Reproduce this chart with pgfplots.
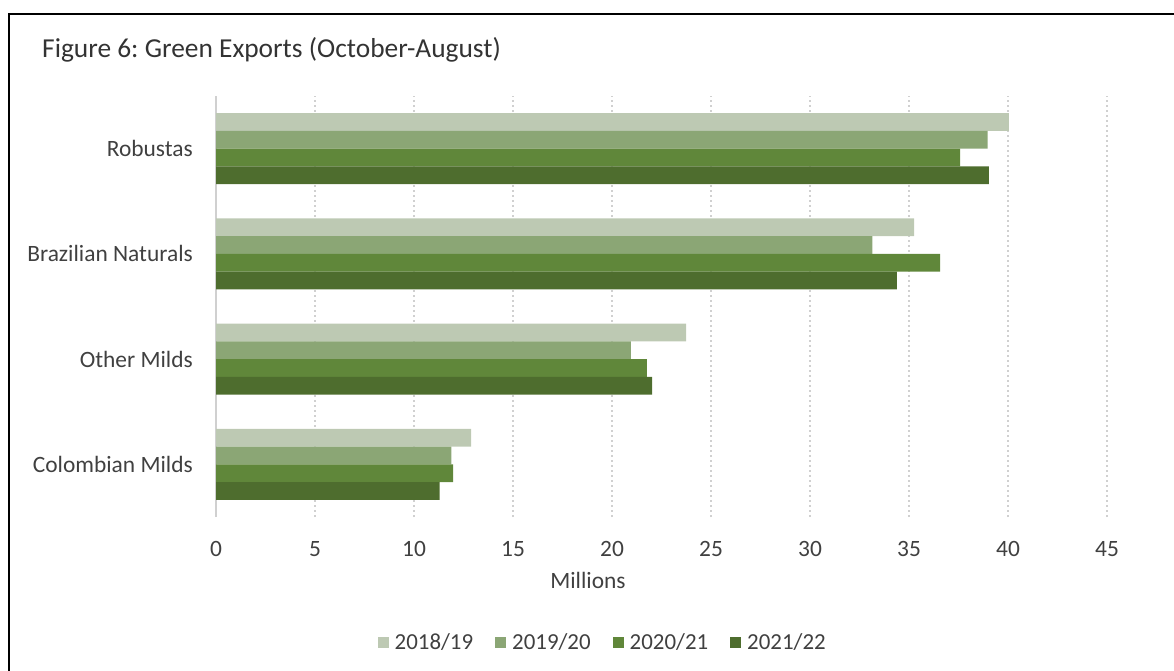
\documentclass[border=0pt]{standalone}
\usepackage{pgfplots}
\pgfplotsset{compat=1.18}
\usepackage{fontspec}
\setmainfont{Carlito}
\definecolor{c1}{HTML}{BDC9B3}
\definecolor{c2}{HTML}{8BA675}
\definecolor{c3}{HTML}{60873A}
\definecolor{c4}{HTML}{4E6D2E}
\definecolor{txt}{HTML}{404040}
\definecolor{grd}{HTML}{D0D0D0}
\pgfplotsset{sq/.style={fill=#1, draw=none, legend image code/.code={\fill[##1] (0bp,-5.5bp) rectangle (11bp,5.5bp);}}}
\begin{document}
\frenchspacing
\begin{tikzpicture}
\useasboundingbox (0bp,0bp) rectangle (1174bp,671bp);
\draw[black, line width=2bp] (9bp,-10bp) -- (9bp,657bp) -- (1190bp,657bp);
\node[anchor=base west, font=\fontsize{27.5}{32}\selectfont, text=txt!80!black, inner sep=0] at (42bp,613bp) {Figure 6: Green Exports (October-August)};
\begin{axis}[at={(216bp,154bp)}, anchor=south west, scale only axis, width=891bp, height=421bp,
  xbar, xmin=0, xmax=45, ymin=-0.5, ymax=3.5, bar width=17.75bp,
  xtick={0,5,...,45}, ytick={0,1,2,3},
  yticklabels={Colombian Milds, Other Milds, Brazilian Naturals, Robustas},
  separate axis lines, axis x line*=bottom, axis y line*=left,
  x axis line style={draw=none}, y axis line style={draw=grd, line width=2bp},
  major tick length=0pt,
  xmajorgrids, major grid style={draw=grd, line width=2.2bp, dash pattern=on 2.2bp off 2.8bp},
  tick label style={font=\fontsize{23.5}{27}\selectfont, text=txt},
  xticklabel style={anchor=base, yshift=-39bp},
  yticklabel style={anchor=east, xshift=-23bp, inner sep=0pt},
  /pgf/number format/assume math mode=true,
  xlabel={Millions},
  xlabel style={at={(rel axis cs:0.4175,0)}, anchor=base, yshift=-71bp, font=\fontsize{23.5}{27}\selectfont, text=txt, inner sep=0pt},
  legend columns=4,
  legend style={at={(rel axis cs:0.434,-0.297)}, anchor=center, draw=none, fill=none,
    font=\fontsize{23}{27}\selectfont, text=txt,
    /tikz/every odd column/.append style={column sep=4bp},
    /tikz/every even column/.append style={column sep=20bp}},
  clip=false,
]
\addplot[sq=c1, bar shift=26.6bp] coordinates {(12.89,0) (23.74,1) (35.26,2) (40.04,3)};
\addplot[sq=c2, bar shift=8.9bp] coordinates {(11.89,0) (20.95,1) (33.15,2) (38.97,3)};
\addplot[sq=c3, bar shift=-8.9bp] coordinates {(11.97,0) (21.76,1) (36.57,2) (37.58,3)};
\addplot[sq=c4, bar shift=-26.6bp] coordinates {(11.30,0) (22.03,1) (34.39,2) (39.03,3)};
\legend{2018/19, 2019/20, 2020/21, 2021/22}
\end{axis}
\end{tikzpicture}
\end{document}
